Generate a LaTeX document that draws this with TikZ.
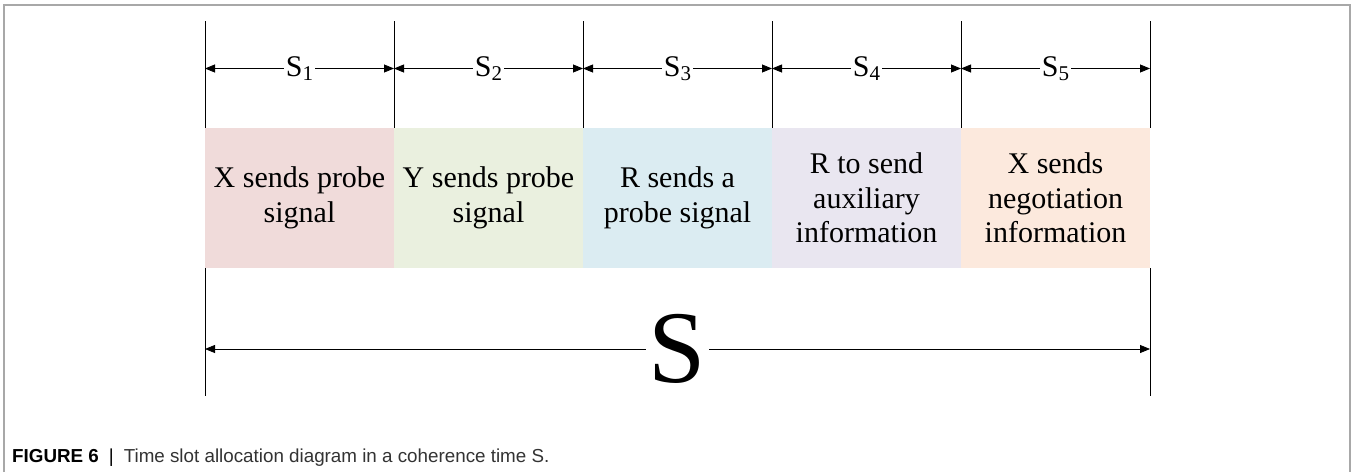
\documentclass[tikz,border=0pt]{standalone}
\usepackage{fontspec}
\setmainfont{Liberation Serif}
\newfontfamily\capfont{Liberation Sans}
\usetikzlibrary{positioning,arrows.meta}

\definecolor{slotred}{HTML}{F0DBDA}
\definecolor{slotgreen}{HTML}{EAF0DF}
\definecolor{slotblue}{HTML}{DBECF2}
\definecolor{slotlilac}{HTML}{E9E6F0}
\definecolor{slotpeach}{HTML}{FCE9DD}
\definecolor{framegray}{HTML}{A8A8A8}

\newcommand{\slotname}[1]{S\raisebox{-4pt}{\fontsize{21}{21}\selectfont #1}}

\begin{document}
\begin{tikzpicture}[x=1pt,y=-1pt,
    >={Triangle[length=10pt,width=8pt]},
    slotbox/.style={minimum width=189pt,minimum height=140pt,inner sep=0pt,
      outer sep=0pt,align=center,font=\fontsize{30}{34.5}\selectfont},
    dimline/.style={line width=0.8pt,<->},
    tick/.style={line width=0.8pt},
    slotlab/.style={fill=white,inner sep=1.5pt,font=\fontsize{30}{30}\selectfont}]
    \useasboundingbox (0,0) rectangle (1355,472);
    \fill[white] (0,0) rectangle (1355,472);
    \draw[framegray,line width=1.2pt] (4,472) -- (4,5) -- (1350,5) -- (1350,472);
    % the five time slots
    \node[slotbox,fill=slotred] (slot1) at (299.5,198) {X sends probe\\signal};
    \node[slotbox,fill=slotgreen,right=0pt of slot1] (slot2) {Y sends probe\\signal};
    \node[slotbox,fill=slotblue,right=0pt of slot2] (slot3) {R sends a\\probe signal};
    \node[slotbox,fill=slotlilac,right=0pt of slot3] (slot4) {R to send\\auxiliary\\information};
    \node[slotbox,fill=slotpeach,right=0pt of slot4] (slot5) {X sends\\negotiation\\information};
    % ticks and arrows above
    \foreach \i in {0,...,5} {
      \coordinate (up\i) at (205+189*\i,21);
      \coordinate (ar\i) at (205+189*\i,68.5);
      \draw[tick] (up\i) -- (up\i |- slot1.north);
    }
    \foreach \i [evaluate=\i as \j using int(\i-1)] in {1,...,5}
      \draw[dimline] (ar\j) -- node[slotlab] (s\i) {\slotname{\i}} (ar\i);
    % whole coherence time
    \coordinate (lo0) at (205,396);
    \coordinate (lo5) at (1150,396);
    \coordinate (bl) at (205,349);
    \coordinate (br) at (1150,349);
    \draw[tick] (slot1.south west) -- (lo0);
    \draw[tick] (slot5.south east) -- (lo5);
    \draw[dimline] (bl) -- node[fill=white,inner sep=3pt,font=\fontsize{103}{103}\selectfont] (total) {S} (br);
    \node[anchor=base west,inner sep=0pt,text=black!80,font=\capfont\fontsize{18.8}{22}\selectfont] (caption) at (12,462.7)
      {\textcolor{black}{\textbf{FIGURE 6}\hspace{10pt}|}\hspace{10pt}Time slot allocation diagram in a coherence time S.};
  \end{tikzpicture}
\end{document}
